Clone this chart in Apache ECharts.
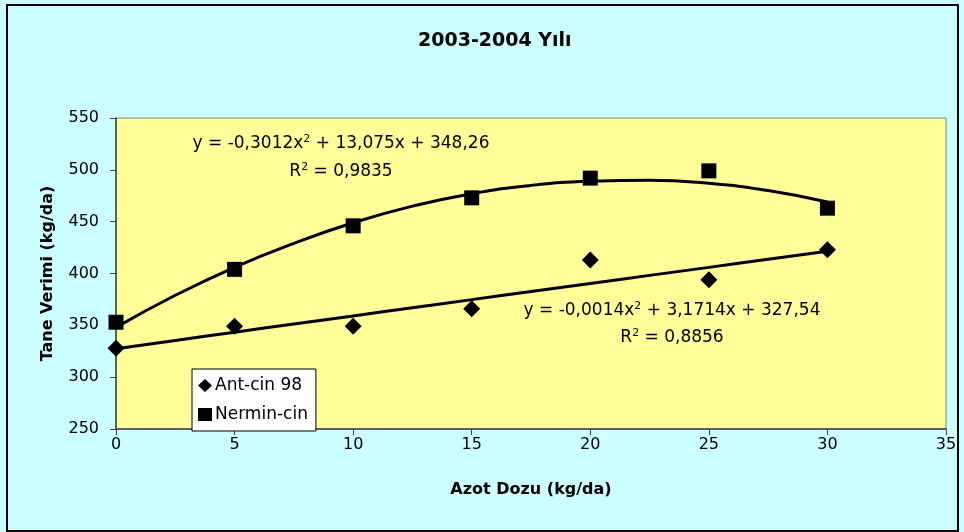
<!DOCTYPE html>
<html>
<head>
<meta charset="utf-8">
<script src="https://cdn.jsdelivr.net/npm/echarts@6/dist/echarts.min.js"></script>
<style>html,body{margin:0;padding:0;background:#CCFFFF;}#c{width:964px;height:532px;}</style>
</head>
<body>
<div id="c"></div>
<script>
// Data
var doses = [0, 5, 10, 15, 20, 25, 30];
var antCin98 = [328, 349, 349, 366, 413, 394, 423];
var nerminCin = [353, 404, 446, 473, 492, 499, 463];
// Trendline values
var trendX = [0, 2.5, 5, 7.5, 10, 12.5, 15, 17.5, 20, 22.5, 25, 27.5, 30];
var trendNermin = [348, 379, 406, 429, 449, 465, 477, 485, 489, 490, 487, 480, 469];
var trendAnt = [327.5, 335.4, 343.4, 351.3, 359.1, 367.0, 374.8, 382.6, 390.4, 398.2, 405.9, 413.7, 421.4];
var xTicks = [0, 5, 10, 15, 20, 25, 30, 35];
var yTicks = [250, 300, 350, 400, 450, 500, 550];

function pairs(xs, ys) { return xs.map(function (x, i) { return [x, ys[i]]; }); }

var FONT = '"DejaVu Sans", "Liberation Sans", sans-serif';
var richStyles = {
  n: { fontFamily: FONT, fontSize: 17, fill: '#000' },
  s: { fontFamily: FONT, fontSize: 11, fill: '#000', padding: [0, 0, 9, 0] }
};
var chart = echarts.init(document.getElementById('c'));
chart.setOption({
  backgroundColor: '#CCFFFF',
  animation: false,
  title: {
    text: '2003-2004 Yılı', left: 413, top: 27,
    textStyle: { fontFamily: FONT, fontSize: 19, fontWeight: 'bold', color: '#000' }
  },
  grid: {
    left: 116, top: 118, right: 18, bottom: 103,
    show: true, backgroundColor: '#FFFF99', borderColor: '#808080', borderWidth: 1
  },
  legend: {
    orient: 'vertical', left: 192, top: 369,
    backgroundColor: '#fff', borderColor: '#000', borderWidth: 1,
    padding: [8, 8, 8, 6], itemGap: 12, itemWidth: 14, itemHeight: 13,
    textStyle: { fontFamily: FONT, fontSize: 17, color: '#000', padding: [0, 0, 0, -2] },
    itemStyle: { opacity: 1, color: '#000' },
    data: [
      { name: 'Ant-cin 98', icon: 'diamond' },
      { name: 'Nermin-cin', icon: 'rect' }
    ]
  },
  xAxis: {
    type: 'value', min: xTicks[0], max: xTicks[xTicks.length - 1], interval: 5,
    name: 'Azot Dozu (kg/da)', nameLocation: 'middle', nameGap: 53,
    nameTextStyle: { fontFamily: FONT, fontSize: 16, fontWeight: 'bold', color: '#000' },
    axisLine: { show: true, lineStyle: { color: '#404040', width: 1.5 } },
    axisTick: { show: true, inside: false, length: 6, lineStyle: { color: '#404040' } },
    axisLabel: { fontFamily: FONT, fontSize: 16, color: '#000', margin: 8 },
    splitLine: { show: false }
  },
  yAxis: {
    type: 'value', min: yTicks[0], max: yTicks[yTicks.length - 1], interval: 50,
    name: 'Tane Verimi (kg/da)', nameLocation: 'middle', nameGap: 60, nameRotate: 90,
    nameTextStyle: { fontFamily: FONT, fontSize: 16, fontWeight: 'bold', color: '#000' },
    axisLine: { show: true, lineStyle: { color: '#404040', width: 1.5 } },
    axisTick: { show: true, inside: false, length: 6, lineStyle: { color: '#404040' } },
    axisLabel: { fontFamily: FONT, fontSize: 16, color: '#000', margin: 17 },
    splitLine: { show: false }
  },
  series: [
    {
      name: 'trend-nermin', type: 'line', smooth: true, showSymbol: false, silent: true,
      lineStyle: { color: '#000', width: 3 }, data: pairs(trendX, trendNermin), z: 2
    },
    {
      name: 'trend-ant', type: 'line', smooth: true, showSymbol: false, silent: true,
      lineStyle: { color: '#000', width: 3 }, data: pairs(trendX, trendAnt), z: 2
    },
    {
      name: 'Ant-cin 98', type: 'scatter', symbol: 'diamond', symbolSize: 17,
      itemStyle: { color: '#000', opacity: 1 }, data: pairs(doses, antCin98), z: 3
    },
    {
      name: 'Nermin-cin', type: 'scatter', symbol: 'rect', symbolSize: 15,
      itemStyle: { color: '#000', opacity: 1 }, data: pairs(doses, nerminCin), z: 3
    }
  ],
  graphic: [
    {
      type: 'rect', left: 6, top: 4, silent: true, z: -1,
      shape: { width: 951, height: 526 },
      style: { fill: 'transparent', stroke: '#000', lineWidth: 2 }
    },
    {
      type: 'text', x: 341, y: 144, z: 10,
      style: {
        text: '{n|y = -0,3012x}{s|2}{n| + 13,075x + 348,26}',
        align: 'center', verticalAlign: 'middle', rich: richStyles
      }
    },
    {
      type: 'text', x: 341, y: 172, z: 10,
      style: {
        text: '{n|R}{s|2}{n| = 0,9835}',
        align: 'center', verticalAlign: 'middle', rich: richStyles
      }
    },
    {
      type: 'text', x: 672, y: 311, z: 10,
      style: {
        text: '{n|y = -0,0014x}{s|2}{n| + 3,1714x + 327,54}',
        align: 'center', verticalAlign: 'middle', rich: richStyles
      }
    },
    {
      type: 'text', x: 672, y: 338, z: 10,
      style: {
        text: '{n|R}{s|2}{n| = 0,8856}',
        align: 'center', verticalAlign: 'middle', rich: richStyles
      }
    }
  ]
});
</script>
</body>
</html>
